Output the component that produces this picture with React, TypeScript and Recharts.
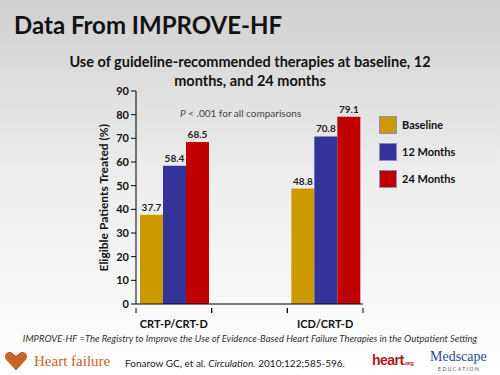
import React from "react";
import { BarChart, Bar, XAxis, YAxis, LabelList } from "recharts";

const categories = ["CRT-P/CRT-D", "", "ICD/CRT-D"];
const baseline = [37.7, null, 48.8];
const months12 = [58.4, null, 70.8];
const months24 = [68.5, null, 79.1];
const yTicks = [0, 10, 20, 30, 40, 50, 60, 70, 80, 90];

const series = [
  { key: "baseline", name: "Baseline", color: "#CC9900" },
  { key: "m12", name: "12 Months", color: "#333399" },
  { key: "m24", name: "24 Months", color: "#C00000" },
];

const subtitleLines = ["Use of guideline-recommended therapies at baseline, 12", "months, and 24 months"];

const data = categories.map((c, i) => ({
  name: c,
  baseline: baseline[i],
  m12: months12[i],
  m24: months24[i],
}));

const FONT = "Lato, 'Open Sans', sans-serif";
const BAND = 227 / 3;

const CatTick = (props: any) => {
  const { x, y, payload } = props;
  return (
    <g>
      <line x1={x - BAND / 2} x2={x - BAND / 2} y1={y - 4} y2={y + 1} stroke="#000" />
      <line x1={x + BAND / 2} x2={x + BAND / 2} y1={y - 4} y2={y + 1} stroke="#000" />
      <text x={x} y={y + 16} textAnchor="middle" fontSize={11} fontWeight={700} fill="#111" fontFamily={FONT}>
        {payload.value}
      </text>
    </g>
  );
};

export default function App() {
  return (
    <div
      style={{
        position: "absolute",
        left: 0,
        top: 0,
        width: 500,
        height: 375,
        overflow: "hidden",
        background: "linear-gradient(to bottom, #d0d0d0 0%, #ececec 45%, #ffffff 100%)",
        fontFamily: FONT,
      }}
    >
      <div style={{ position: "absolute", left: 14, top: 10, fontSize: 24, fontWeight: 700, color: "#111" }}>
        Data From IMPROVE-HF
      </div>
      {subtitleLines.map((line, i) => (
        <div
          key={i}
          style={{
            position: "absolute",
            left: 250,
            top: 53 + i * 19,
            transform: "translateX(-50%)",
            whiteSpace: "nowrap",
            fontSize: 14.5,
            fontWeight: 700,
            lineHeight: "17px",
            color: "#111",
          }}
        >
          {line}
        </div>
      ))}
      <div style={{ position: "absolute", left: 180, top: 107, fontSize: 10, color: "#444" }}>
        <i>P</i> &lt; .001 for all comparisons
      </div>
      <div style={{ position: "absolute", left: 0, top: 0 }}>
        <BarChart
          width={500}
          height={375}
          data={data}
          margin={{ top: 91, right: 137, bottom: 41, left: 100 }}
          barCategoryGap={4}
          barGap={0}
        >
          <XAxis
            dataKey="name"
            axisLine={{ stroke: "#000" }}
            tickLine={false}
            tick={<CatTick />}
            interval={0}
            height={30}
          />
          <YAxis
            domain={[0, 90]}
            ticks={yTicks}
            axisLine={{ stroke: "#000" }}
            tickLine={{ stroke: "#000" }}
            tickSize={5}
            width={36}
            tick={{ fontSize: 11, fontWeight: 700, fill: "#111", fontFamily: FONT }}
            label={{
              value: "Eligible Patients Treated (%)",
              angle: -90,
              position: "insideLeft",
              dx: -1,
              dy: 74,
              style: { fontSize: 12, fontWeight: 700, fill: "#111", fontFamily: FONT },
            }}
          />
          {series.map((s) => (
            <Bar key={s.key} dataKey={s.key} name={s.name} fill={s.color} isAnimationActive={false}>
              <LabelList
                dataKey={s.key}
                position="top"
                offset={4}
                style={{ fontSize: 10, fontWeight: 700, fill: "#222", fontFamily: FONT }}
              />
            </Bar>
          ))}
        </BarChart>
      </div>
      <div style={{ position: "absolute", left: 379, top: 111, fontFamily: FONT }}>
        {series.map((s) => (
          <div key={s.key} style={{ display: "flex", alignItems: "center", height: 27 }}>
            <div style={{ width: 16, height: 16, background: s.color, border: "1px solid #8890c0", marginRight: 5 }} />
            <span style={{ fontSize: 11, fontWeight: 700, color: "#111" }}>{s.name}</span>
          </div>
        ))}
      </div>
      <div
        style={{
          position: "absolute",
          left: 0,
          width: 500,
          top: 333,
          textAlign: "center",
          fontSize: 9.5,
          fontStyle: "italic",
          color: "#333",
        }}
      >
        IMPROVE-HF =The Registry to Improve the Use of Evidence-Based Heart Failure Therapies in the Outpatient Setting
      </div>
      <div style={{ position: "absolute", left: 4, top: 350, display: "flex", alignItems: "center" }}>
        <svg width={24} height={22} viewBox="0 0 28 24">
          <path d="M14 23 L2 10 C-1 5 4 0 9 2 L14 6 L19 2 C24 0 29 5 26 10 Z" fill="#C8642A" />
        </svg>
        <span style={{ fontFamily: "'Liberation Serif', serif", fontSize: 15, color: "#C8642A", marginLeft: 6 }}>
          Heart failure
        </span>
      </div>
      <div style={{ position: "absolute", left: 125, top: 357, fontSize: 10, color: "#222" }}>
        Fonarow GC, et al. <i>Circulation.</i> 2010;122;585-596.
      </div>
      <div
        style={{
          position: "absolute",
          left: 372,
          top: 352,
          fontSize: 14,
          fontWeight: 900,
          color: "#B01818",
          fontFamily: "'Liberation Sans', sans-serif",
          letterSpacing: -0.5,
        }}
      >
        heart<span style={{ fontSize: 6 }}>.org</span>
      </div>
      <div
        style={{
          position: "absolute",
          left: 430,
          top: 349,
          fontSize: 14,
          lineHeight: "16px",
          color: "#2A4E8C",
          fontFamily: "'Liberation Serif', serif",
        }}
      >
        Medscape
      </div>
      <div
        style={{
          position: "absolute",
          left: 438,
          top: 366,
          fontSize: 5,
          lineHeight: "6px",
          letterSpacing: 1.5,
          color: "#555",
        }}
      >
        EDUCATION
      </div>
    </div>
  );
}
